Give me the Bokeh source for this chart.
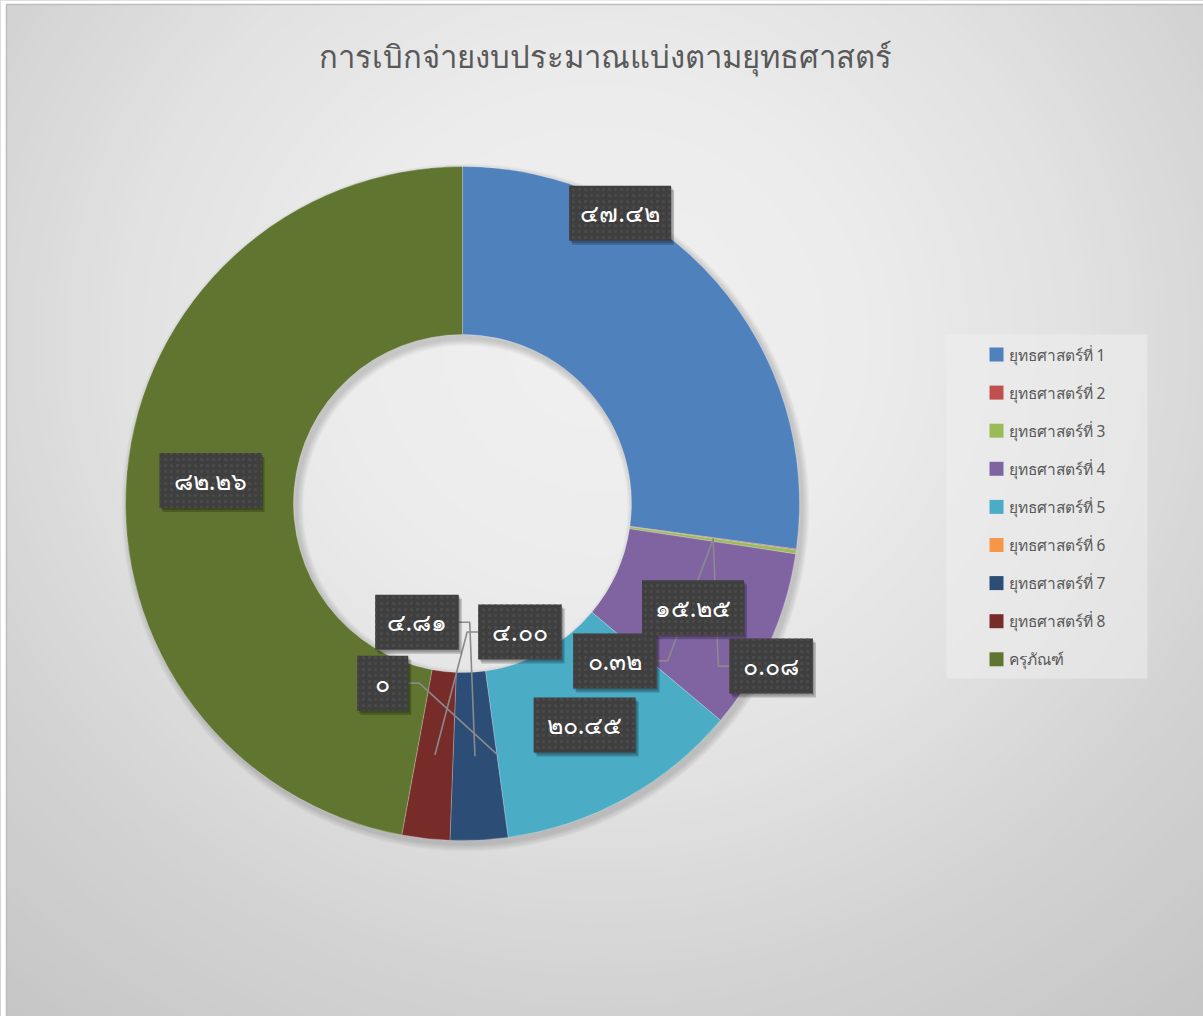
import numpy as np
from bokeh.plotting import figure
from bokeh.models import Range1d, ColumnDataSource
from bokeh.embed import file_html
from bokeh.resources import INLINE
from bokeh.core.properties import value

# ---------------- data ----------------
title_text = "การเบิกจ่ายงบประมาณแบ่งตามยุทธศาสตร์"
categories = ["ยุทธศาสตร์ที่ 1", "ยุทธศาสตร์ที่ 2", "ยุทธศาสตร์ที่ 3", "ยุทธศาสตร์ที่ 4",
              "ยุทธศาสตร์ที่ 5", "ยุทธศาสตร์ที่ 6", "ยุทธศาสตร์ที่ 7", "ยุทธศาสตร์ที่ 8",
              "ครุภัณฑ์"]
values = [47.42, 0.08, 0.32, 15.25, 20.45, 0.0, 4.81, 4.00, 82.26]

# ---------------- style ----------------
colors = ["#4F81BD", "#C0504D", "#9BBB59", "#8064A2", "#4BACC6",
          "#F79646", "#2C4D75", "#772C2A", "#5F7530"]
# label box offsets (screen px, y down) from slice anchor; leader flag
label_offsets = [(-33, -124), (58, 128), (-98, 121), (0, 0), (0, 0),
                 (-114, -71), (-58, -134), (85, -123), (0, 0)]
show_leader = [False, True, True, False, False, True, True, True, False]

W, H = 1203, 1016
FONT = "Noto Sans"
OFF = 0


def X(sx):
    return sx - OFF


def Y(sy):
    return H - (sy - OFF)


CX, CY = 462, 503          # screen coords of donut centre
R_OUT, R_IN = 337, 169
R_MID = (R_OUT + R_IN) / 2

thai_digits = str.maketrans("0123456789", "๐๑๒๓๔๕๖๗๘๙")


def fmt(v):
    s = "0" if v == 0 else f"{v:.2f}"
    return s.translate(thai_digits)


p = figure(width=W, height=H, x_range=Range1d(0, W), y_range=Range1d(0, H),
           output_backend="svg", toolbar_location=None, min_border=0)
p.axis.visible = False
p.grid.visible = False
p.outline_line_color = None
p.background_fill_color = "#c6c6c6"
p.border_fill_color = "#c6c6c6"

# ---------------- background radial gradient ----------------
gx, gy = 600, 340
stops_d = [0, 250, 450, 650, 900, 1200]
stops_l = [240, 236, 226, 211, 197, 190]
ds = np.linspace(1150, 4, 110)
bg_cols = []
for d in ds:
    l = int(round(np.interp(d, stops_d, stops_l)))
    bg_cols.append("#%02x%02x%02x" % (l, l, l))
p.ellipse(x=[X(gx)] * len(ds), y=[Y(gy)] * len(ds), width=list(ds * 2.1), height=list(ds * 2.0),
          fill_color=bg_cols, line_color=None)

# page margin strip + chart-area border (left/top)
p.quad(left=[0, 0], right=[X(5.5), W], bottom=[0, Y(3.5)], top=[H, H],
       fill_color="white", line_color=None)
p.segment(x0=[X(6), X(6)], y0=[0, Y(4)], x1=[X(6), W], y1=[Y(4), Y(4)],
          line_color="#bdbdbd", line_width=1.5)

# ---------------- donut shadow ----------------
for k in range(1, 8):
    p.annulus(x=[X(CX + 3)], y=[Y(CY + 4)], inner_radius=R_IN - k, outer_radius=R_OUT + k,
              fill_color="black", fill_alpha=0.025, line_color=None)

# ---------------- donut ----------------
total = float(sum(values))
cum = np.concatenate([[0.0], np.cumsum(values)]) / total * 2 * np.pi
theta0 = cum[:-1]
theta1 = cum[1:]
mid = (theta0 + theta1) / 2

nz = [i for i, v in enumerate(values) if v > 0]
wsrc = ColumnDataSource(dict(
    start=[np.pi / 2 - theta0[i] for i in nz],
    end=[np.pi / 2 - theta1[i] for i in nz],
    color=[colors[i] for i in nz],
))
p.annular_wedge(x=X(CX), y=Y(CY), inner_radius=R_IN, outer_radius=R_OUT,
                start_angle="start", end_angle="end", direction="clock",
                fill_color="color", line_color="white", line_alpha=0.3, line_width=0.8,
                source=wsrc)

# ---------------- data labels ----------------
texts = [fmt(v) for v in values]
ax = CX + R_MID * np.sin(mid)
ay = CY - R_MID * np.cos(mid)
bx, by, bw = [], [], []
for i, t in enumerate(texts):
    nd = sum(ch.isdigit() for ch in t)
    w = max(51, 22 + 18.5 * nd + (6 if "." in t else 0))
    bx.append(ax[i] + label_offsets[i][0])
    by.append(ay[i] + label_offsets[i][1])
    bw.append(w)

# leader lines
lx, ly = [], []
for i in range(len(values)):
    if not show_leader[i]:
        continue
    if bx[i] < ax[i]:
        e = bx[i] + bw[i] / 2
        bend = e + 11
    else:
        e = bx[i] - bw[i] / 2
        bend = e - 11
    lx.append([X(e), X(bend), X(ax[i])])
    ly.append([Y(by[i]), Y(by[i]), Y(ay[i])])
p.multi_line(xs=lx, ys=ly, line_color="#8a8a8a", line_width=1.6)

BH = 55
p.rect(x=[X(v) + 3 for v in bx], y=[Y(v) - 4 for v in by], width=bw, height=BH,
       fill_color="black", fill_alpha=0.22, line_color=None)
p.rect(x=[X(v) + 1.5 for v in bx], y=[Y(v) - 2 for v in by], width=bw, height=BH,
       fill_color="black", fill_alpha=0.18, line_color=None)
p.rect(x=[X(v) for v in bx], y=[Y(v) for v in by], width=bw, height=BH,
       fill_color="#3f3f3f", line_color=None,
       hatch_pattern="dot", hatch_color="#4c4c4c", hatch_scale=6, hatch_weight=1.2)
p.text(x=[X(v) for v in bx], y=[Y(v) + 1 for v in by], text=texts,
       text_align="center", text_baseline="middle", text_color="white",
       text_font=value(FONT), text_font_style="normal", text_font_size="25px")

# ---------------- title ----------------
p.text(x=[X(605)], y=[Y(55)], text=[title_text], text_align="center", text_baseline="middle",
       text_color="#595959", text_font=value(FONT), text_font_size="31px")

# ---------------- legend ----------------
p.rect(x=[X(1046.5)], y=[Y(506)], width=201, height=344,
       fill_color="#eeeeee", fill_alpha=0.55, line_color=None)
row_y = [354 + 38.1 * i for i in range(len(categories))]
p.rect(x=[X(996)] * len(categories), y=[Y(v) for v in row_y], width=14, height=14,
       fill_color=colors, line_color=None)
p.text(x=[X(1008)] * len(categories), y=[Y(v) for v in row_y], text=categories,
       text_align="left", text_baseline="middle", text_color="#595959",
       text_font=value(FONT), text_font_size="15.5px")

open("out.html", "w").write(file_html(p, INLINE))
